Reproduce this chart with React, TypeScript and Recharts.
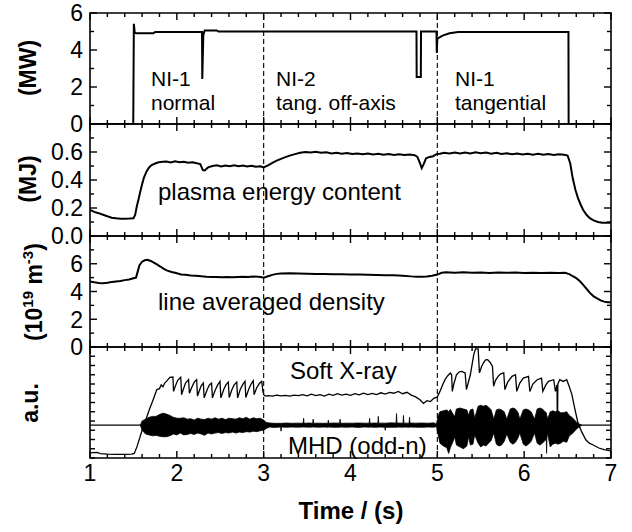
import React from 'react';
import { ComposedChart, Line, Area, XAxis, YAxis, ReferenceLine, ReferenceArea } from 'recharts';

const FONT = '"Liberation Sans", Arial, Helvetica, sans-serif';
const INK = '#000';

// shared time axis (s)
const TIME_RANGE: [number, number] = [1, 7];
const TIME_TICKS = [1, 1.2, 1.4, 1.6, 1.8, 2, 2.2, 2.4, 2.6, 2.8, 3, 3.2, 3.4, 3.6, 3.8, 4, 4.2, 4.4, 4.6, 4.8, 5, 5.2, 5.4, 5.6, 5.8, 6, 6.2, 6.4, 6.6, 6.8, 7];
const TIME_LABELS = [1, 2, 3, 4, 5, 6, 7];
// NBI switching instants, drawn dashed through every panel
const SWITCH_TIMES = [3, 5];

const MW_TICKS = [0, 1, 2, 3, 4, 5, 6];
const MW_LABELS = [0, 2, 4, 6];
const MJ_TICKS = [0, 0.1, 0.2, 0.3, 0.4, 0.5, 0.6, 0.7, 0.8];
const MJ_LABELS = [0, 0.2, 0.4, 0.6];
const NE_TICKS = [0, 1, 2, 3, 4, 5, 6, 7, 8];
const NE_LABELS = [0, 2, 4, 6];
const AU_TICKS = [0, 1, 2, 3, 4, 5, 6, 7, 8, 9, 10, 11, 12];
const MHD_ZERO = 3.55;

type Pt = [number, number];

// injected NBI power (MW)
const POWER: Pt[] = [
  [1.0, 0], [1.498, 0], [1.505, 5.42], [1.515, 4.95], [1.53, 4.9], [1.73, 4.9], [1.75, 4.97],
  [2.29, 4.97], [2.293, 2.43], [2.305, 4.8], [2.32, 5.06], [2.46, 5.06], [2.48, 5.0],
  [4.76, 5.0], [4.762, 2.54], [4.81, 2.54], [4.812, 5.0], [4.99, 5.0], [4.994, 3.84],
  [5.0, 4.62], [5.06, 4.78], [5.14, 4.9], [5.24, 4.97], [6.51, 4.97], [6.512, 0], [7.0, 0],
];

// plasma stored energy (MJ)
const ENERGY: Pt[] = [
  [1.0, 0.186], [1.05, 0.172], [1.1, 0.163], [1.15, 0.152], [1.2, 0.141], [1.25, 0.131], [1.3, 0.126],
  [1.35, 0.124], [1.4, 0.124], [1.45, 0.125], [1.5, 0.127], [1.52, 0.15], [1.54, 0.215], [1.56, 0.265],
  [1.58, 0.32], [1.6, 0.37], [1.62, 0.415], [1.65, 0.46], [1.68, 0.49], [1.71, 0.507], [1.75, 0.518],
  [1.79, 0.527], [1.84, 0.53], [1.88, 0.532], [1.93, 0.526], [1.98, 0.533], [2.03, 0.527], [2.08, 0.531],
  [2.13, 0.523], [2.18, 0.526], [2.23, 0.519], [2.27, 0.514], [2.3, 0.47], [2.32, 0.468], [2.36, 0.49],
  [2.41, 0.5], [2.46, 0.505], [2.51, 0.497], [2.56, 0.503], [2.61, 0.499], [2.66, 0.505], [2.71, 0.498],
  [2.76, 0.503], [2.81, 0.497], [2.86, 0.502], [2.91, 0.495], [2.96, 0.498], [3.0, 0.49], [3.05, 0.505],
  [3.1, 0.522], [3.15, 0.538], [3.2, 0.551], [3.25, 0.563], [3.3, 0.574], [3.36, 0.585], [3.42, 0.594],
  [3.48, 0.6], [3.54, 0.597], [3.6, 0.602], [3.66, 0.594], [3.72, 0.598], [3.78, 0.59], [3.84, 0.595],
  [3.9, 0.588], [3.96, 0.592], [4.02, 0.585], [4.08, 0.59], [4.14, 0.584], [4.2, 0.589], [4.26, 0.582],
  [4.32, 0.587], [4.38, 0.58], [4.44, 0.585], [4.5, 0.579], [4.56, 0.584], [4.62, 0.578], [4.68, 0.582],
  [4.74, 0.577], [4.77, 0.565], [4.8, 0.52], [4.82, 0.485], [4.84, 0.51], [4.87, 0.555], [4.91, 0.565],
  [4.95, 0.57], [4.99, 0.585], [5.03, 0.588], [5.08, 0.595], [5.14, 0.59], [5.2, 0.596], [5.26, 0.589],
  [5.32, 0.597], [5.38, 0.59], [5.44, 0.598], [5.5, 0.592], [5.56, 0.596], [5.62, 0.588], [5.68, 0.594],
  [5.74, 0.586], [5.8, 0.591], [5.86, 0.584], [5.92, 0.59], [5.98, 0.583], [6.04, 0.588], [6.1, 0.581],
  [6.16, 0.587], [6.22, 0.58], [6.28, 0.585], [6.34, 0.579], [6.4, 0.584], [6.46, 0.58], [6.5, 0.575],
  [6.53, 0.52], [6.56, 0.41], [6.59, 0.33], [6.62, 0.27], [6.65, 0.225], [6.68, 0.186], [6.72, 0.15],
  [6.76, 0.126], [6.8, 0.112], [6.85, 0.1], [6.9, 0.095], [6.95, 0.094], [7.0, 0.094],
];

// line averaged electron density (1e19 m^-3)
const DENSITY: Pt[] = [
  [1.0, 4.72], [1.05, 4.66], [1.1, 4.62], [1.15, 4.6], [1.2, 4.63], [1.25, 4.68], [1.3, 4.72], [1.35, 4.76],
  [1.4, 4.82], [1.45, 4.87], [1.5, 4.95], [1.53, 5.0], [1.55, 5.45], [1.57, 5.9], [1.6, 6.15], [1.63, 6.25],
  [1.66, 6.28], [1.7, 6.2], [1.73, 6.1], [1.77, 5.95], [1.81, 5.8], [1.85, 5.63], [1.89, 5.5], [1.94, 5.4],
  [1.99, 5.33], [2.05, 5.22], [2.1, 5.2], [2.16, 5.15], [2.22, 5.13], [2.28, 5.1], [2.34, 5.06], [2.4, 5.04],
  [2.46, 5.05], [2.52, 5.02], [2.58, 5.04], [2.64, 5.02], [2.7, 5.05], [2.76, 5.07], [2.82, 5.05], [2.88, 5.08],
  [2.94, 5.06], [2.98, 5.02], [3.0, 5.0], [3.05, 5.1], [3.1, 5.2], [3.15, 5.27], [3.2, 5.3], [3.3, 5.32],
  [3.4, 5.3], [3.5, 5.28], [3.6, 5.26], [3.7, 5.27], [3.8, 5.25], [3.9, 5.24], [4.0, 5.23], [4.1, 5.22],
  [4.2, 5.2], [4.3, 5.19], [4.4, 5.18], [4.5, 5.17], [4.6, 5.14], [4.7, 5.09], [4.76, 5.07], [4.82, 5.06],
  [4.88, 5.08], [4.94, 5.14], [5.0, 5.22], [5.05, 5.35], [5.1, 5.38], [5.2, 5.36], [5.3, 5.38], [5.4, 5.35],
  [5.5, 5.37], [5.6, 5.34], [5.7, 5.37], [5.8, 5.35], [5.9, 5.37], [6.0, 5.34], [6.1, 5.36], [6.2, 5.33],
  [6.3, 5.36], [6.4, 5.34], [6.47, 5.35], [6.52, 5.25], [6.56, 5.1], [6.6, 4.96], [6.64, 4.75], [6.68, 4.48],
  [6.72, 4.18], [6.76, 3.88], [6.8, 3.65], [6.84, 3.5], [6.88, 3.36], [6.92, 3.27], [6.96, 3.23], [7.0, 3.22],
];

// soft X-ray emission (a.u.), sawtooth crashes
const SXR: Pt[] = [
  [1.0, 0.55], [1.08, 0.6], [1.12, 0.48], [1.2, 0.42], [1.3, 0.4], [1.4, 0.4], [1.48, 0.42], [1.51, 0.5],
  [1.54, 1.2], [1.57, 2.1], [1.6, 3.0], [1.63, 3.8], [1.66, 4.6], [1.69, 5.4], [1.72, 6.1], [1.75, 6.9],
  [1.77, 7.4], [1.8, 7.5], [1.82, 7.9], [1.84, 7.7], [1.86, 8.1], [1.88, 8.28], [1.9, 8.5], [1.92, 8.72],
  [1.955, 8.75], [1.962, 7.2], [1.98, 7.7], [2.01, 8.4], [2.045, 8.72], [2.055, 6.85], [2.07, 7.3],
  [2.1, 8.1], [2.135, 8.47], [2.145, 7.0], [2.17, 7.6], [2.2, 8.2], [2.228, 8.46], [2.238, 6.7],
  [2.26, 7.3], [2.28, 7.8], [2.305, 8.1], [2.315, 6.5], [2.35, 7.4], [2.375, 7.9], [2.4, 8.1], [2.41, 6.5],
  [2.44, 7.3], [2.47, 7.9], [2.497, 8.28], [2.507, 6.5], [2.54, 7.4], [2.565, 7.9], [2.593, 8.2],
  [2.603, 6.55], [2.635, 7.4], [2.66, 7.9], [2.69, 8.2], [2.7, 6.5], [2.73, 7.4], [2.76, 7.95],
  [2.785, 8.28], [2.795, 6.55], [2.83, 7.5], [2.855, 8.0], [2.88, 8.35], [2.89, 6.85], [2.92, 7.6],
  [2.95, 8.05], [2.978, 8.28], [2.99, 7.3], [3.0, 6.85], [3.02, 6.7], [3.05, 6.75], [3.1, 6.7],
  [3.15, 6.8], [3.2, 6.72], [3.25, 6.78], [3.3, 6.7], [3.35, 6.8], [3.4, 6.74], [3.45, 6.85], [3.5, 6.72],
  [3.55, 6.9], [3.6, 6.75], [3.65, 6.85], [3.7, 6.7], [3.75, 6.9], [3.8, 6.78], [3.85, 6.95], [3.9, 6.8],
  [3.95, 6.9], [4.0, 6.78], [4.05, 6.95], [4.1, 6.82], [4.15, 7.0], [4.2, 6.85], [4.25, 6.98], [4.3, 6.85],
  [4.35, 7.05], [4.4, 6.9], [4.45, 7.1], [4.5, 7.0], [4.55, 7.2], [4.6, 6.95], [4.65, 7.1], [4.7, 6.8],
  [4.75, 6.6], [4.8, 6.3], [4.84, 5.9], [4.88, 6.2], [4.92, 6.1], [4.96, 6.45], [5.0, 6.6], [5.03, 7.2],
  [5.06, 7.9], [5.09, 8.5], [5.12, 8.9], [5.15, 9.19], [5.165, 9.0], [5.172, 7.2], [5.19, 8.0], [5.22, 9.0],
  [5.25, 9.3], [5.28, 9.37], [5.32, 9.19], [5.335, 7.4], [5.36, 8.3], [5.38, 9.0], [5.4, 10.1],
  [5.42, 11.2], [5.44, 11.8], [5.47, 11.8], [5.485, 9.2], [5.51, 9.9], [5.53, 10.27], [5.555, 10.6],
  [5.58, 10.63], [5.61, 10.3], [5.635, 9.9], [5.648, 7.75], [5.67, 8.4], [5.7, 8.83], [5.73, 9.1],
  [5.765, 9.2], [5.778, 7.39], [5.81, 8.2], [5.86, 8.83], [5.9, 9.0], [5.915, 7.2], [5.95, 8.1],
  [5.99, 8.64], [6.05, 8.83], [6.065, 7.2], [6.1, 8.0], [6.15, 8.46], [6.2, 8.64], [6.215, 7.2],
  [6.25, 7.9], [6.28, 8.28], [6.34, 8.46], [6.36, 7.2], [6.378, 7.9], [6.383, 3.3], [6.388, 8.0],
  [6.41, 8.46], [6.45, 8.28], [6.49, 8.46], [6.52, 7.7], [6.55, 6.85], [6.57, 5.9], [6.59, 5.04],
  [6.62, 3.78], [6.66, 2.88], [6.71, 1.97], [6.75, 1.6], [6.79, 1.43], [6.86, 1.08], [6.92, 0.9],
  [6.98, 0.79], [7.0, 0.78],
];

// odd-n MHD magnetic fluctuation envelope: [t, low, high] (a.u.)
const MHD: [number, number, number][] = [
  [1.58, 3.55, 3.55], [1.6, 3.0, 4.0], [1.64, 2.6, 4.2], [1.68, 2.5, 4.4], [1.72, 2.4, 4.5], [1.76, 2.45, 4.5],
  [1.8, 2.35, 4.7], [1.84, 2.3, 4.85], [1.88, 2.3, 4.75], [1.92, 2.4, 4.6], [1.96, 2.6, 4.4], [2.0, 2.5, 4.3],
  [2.04, 2.7, 4.3], [2.08, 2.5, 4.35], [2.12, 2.55, 4.2], [2.16, 2.65, 4.25], [2.2, 2.55, 4.1], [2.24, 2.7, 4.3],
  [2.28, 2.6, 4.2], [2.32, 2.45, 4.15], [2.36, 2.7, 4.3], [2.4, 2.6, 4.2], [2.44, 2.7, 4.35], [2.48, 2.75, 4.2],
  [2.52, 2.65, 4.3], [2.56, 2.75, 4.15], [2.6, 2.7, 4.3], [2.64, 2.8, 4.25], [2.68, 2.7, 4.2], [2.72, 2.8, 4.35],
  [2.76, 2.75, 4.25], [2.8, 2.85, 4.4], [2.84, 2.8, 4.2], [2.88, 2.9, 4.35], [2.92, 2.85, 4.25], [2.96, 2.95, 4.3],
  [3.0, 3.0, 4.1], [3.03, 3.2, 3.85], [3.07, 3.35, 3.78], [3.12, 3.3, 3.75], [3.195, 3.35, 3.75],
  [3.2, 2.9, 3.75], [3.205, 3.35, 3.75], [3.26, 3.32, 3.78], [3.32, 3.35, 3.75], [3.38, 3.33, 3.77],
  [3.455, 3.35, 3.76], [3.46, 3.35, 4.3], [3.465, 3.35, 3.75], [3.52, 3.33, 3.78], [3.565, 3.34, 3.76],
  [3.57, 3.35, 4.2], [3.575, 3.35, 3.75], [3.63, 3.32, 3.77], [3.69, 3.35, 3.75], [3.74, 3.33, 3.76],
  [3.745, 3.33, 4.1], [3.75, 3.35, 3.76], [3.81, 3.32, 3.78], [3.875, 3.33, 3.77], [3.88, 3.32, 4.2],
  [3.885, 3.35, 3.75], [3.95, 3.33, 3.77], [4.02, 3.35, 3.76], [4.09, 3.31, 3.78], [4.16, 3.35, 3.77],
  [4.215, 3.33, 3.76], [4.22, 3.33, 4.3], [4.225, 3.35, 3.76], [4.28, 3.32, 3.78], [4.315, 3.33, 3.77],
  [4.32, 3.33, 4.5], [4.325, 3.35, 3.77], [4.395, 3.33, 3.77], [4.4, 3.0, 3.78], [4.405, 3.33, 3.76],
  [4.46, 3.32, 3.8], [4.525, 3.33, 3.78], [4.53, 3.3, 4.8], [4.535, 3.35, 3.78], [4.605, 3.33, 3.77],
  [4.61, 3.33, 4.6], [4.615, 3.35, 3.77], [4.675, 3.33, 3.77], [4.68, 3.32, 4.4], [4.685, 3.35, 3.78],
  [4.75, 3.33, 3.77], [4.82, 3.32, 3.78], [4.9, 3.35, 3.76], [4.96, 3.33, 3.8], [4.99, 3.4, 3.65],
  [5.01, 2.5, 4.6], [5.03, 1.6, 5.0], [5.07, 1.3, 5.1], [5.11, 1.1, 5.2], [5.13, 0.5, 5.0], [5.15, 1.1, 5.25],
  [5.19, 2.0, 4.6], [5.2, 2.3, 4.5], [5.22, 1.4, 5.3], [5.26, 1.2, 5.4], [5.3, 1.0, 5.3], [5.34, 1.3, 5.2],
  [5.36, 2.3, 4.6], [5.38, 1.4, 5.2], [5.41, 1.5, 5.3], [5.43, 2.5, 4.3], [5.47, 1.6, 5.6], [5.5, 1.2, 5.7],
  [5.53, 1.4, 5.6], [5.56, 1.3, 5.7], [5.59, 1.6, 5.5], [5.62, 1.9, 5.2], [5.65, 2.7, 4.2], [5.68, 1.5, 5.2],
  [5.71, 1.3, 5.3], [5.74, 1.4, 5.2], [5.77, 1.8, 5.0], [5.8, 2.6, 4.2], [5.84, 1.7, 5.3], [5.87, 1.5, 5.4],
  [5.9, 1.7, 5.3], [5.93, 2.2, 4.9], [5.95, 2.7, 4.2], [5.99, 1.5, 5.2], [6.02, 1.3, 5.3], [6.05, 1.5, 5.2],
  [6.08, 1.8, 5.0], [6.12, 2.7, 4.2], [6.15, 1.6, 5.3], [6.18, 1.4, 5.4], [6.21, 1.6, 5.3], [6.24, 1.9, 5.0],
  [6.255, 2.0, 4.9], [6.258, 0.5, 4.6], [6.262, 2.2, 4.6], [6.27, 2.7, 4.2], [6.3, 1.2, 5.0], [6.33, 1.5, 5.1],
  [6.36, 1.6, 5.0], [6.39, 1.5, 5.1], [6.42, 1.6, 4.9], [6.45, 1.8, 4.9], [6.49, 1.7, 5.0], [6.52, 2.4, 4.6],
  [6.55, 2.6, 4.4], [6.58, 2.9, 4.1], [6.61, 3.2, 3.8], [6.64, 3.4, 3.65], [6.66, 3.55, 3.55],
];

const toRows = (pts: Pt[]) => pts.map(([t, v]) => ({ t, v }));
const mhdRows = MHD.map(([t, lo, hi]) => ({ t, v: [lo, hi] }));

const PAD = 12;
const TICK_W = 1.4;

// tick mark as a thin filled bar pointing into the plot; side: which frame edge it sits on
function TickMark({ x, y, len, side }: { x: number; y: number; len: number; side: 'b' | 't' | 'l' | 'r' }) {
  const h = TICK_W / 2;
  if (side === 'b') return <rect x={x - h} y={y - len} width={TICK_W} height={len} fill={INK} />;
  if (side === 't') return <rect x={x - h} y={y} width={TICK_W} height={len} fill={INK} />;
  if (side === 'l') return <rect x={x} y={y - h} width={len} height={TICK_W} fill={INK} />;
  return <rect x={x - len} y={y - h} width={len} height={TICK_W} fill={INK} />;
}

function TimeTick(props: any) {
  const { x, y, payload, labels, side } = props;
  const major = TIME_LABELS.includes(payload.value);
  return (
    <g>
      <TickMark x={x} y={y} len={major ? 7 : 4} side={side} />
      {labels && major && (
        <text x={x} y={y + 23} textAnchor="middle" fontFamily={FONT} fontSize={23} fill={INK}>
          {payload.value}
        </text>
      )}
    </g>
  );
}

function ValueTick(props: any) {
  const { x, y, payload, labels, digits, side } = props;
  const shown = labels.includes(payload.value);
  const len = labels.length === 0 ? 5 : shown ? 7 : 4;
  return (
    <g>
      <TickMark x={x} y={y} len={len} side={side} />
      {shown && side === 'l' && (
        <text x={x - 7} y={y} dy="0.36em" textAnchor="end" fontFamily={FONT} fontSize={23} fill={INK}>
          {payload.value.toFixed(digits)}
        </text>
      )}
    </g>
  );
}

type PanelProps = {
  top: number;
  height: number;
  domain: [number, number];
  ticks: number[];
  labels: number[];
  digits?: number;
  timeLabels?: boolean;
  children?: React.ReactNode;
};

function Panel({ top, height, domain, ticks, labels, digits = 0, timeLabels = false, children }: PanelProps) {
  const padBottom = timeLabels ? 40 : PAD;
  const bare = { tickSize: 0, tickMargin: 0, tickLine: false, axisLine: false, interval: 0 as const };
  // top and bottom axes take one pixel each, the right axis one pixel of width
  return (
    <div style={{ position: 'absolute', left: 0, top: top - PAD - 1 }}>
      <ComposedChart
        width={632}
        height={height + PAD + padBottom + 2}
        margin={{ top: PAD, right: 20, bottom: padBottom, left: 0 }}
      >
        <XAxis
          xAxisId="b" type="number" dataKey="t" domain={TIME_RANGE} allowDataOverflow
          ticks={TIME_TICKS} height={1} {...bare}
          tick={(p: any) => <TimeTick {...p} side="b" labels={timeLabels} />}
        />
        <XAxis
          xAxisId="t" orientation="top" type="number" dataKey="t" domain={TIME_RANGE} allowDataOverflow
          ticks={TIME_TICKS} height={1} {...bare}
          tick={(p: any) => <TimeTick {...p} side="t" labels={false} />}
        />
        <YAxis
          yAxisId="l" type="number" domain={domain} allowDataOverflow ticks={ticks}
          width={90} {...bare}
          tick={(p: any) => <ValueTick {...p} side="l" labels={labels} digits={digits} />}
        />
        <YAxis
          yAxisId="r" orientation="right" type="number" domain={domain} allowDataOverflow ticks={ticks}
          width={1} {...bare}
          tick={(p: any) => <ValueTick {...p} side="r" labels={labels} digits={digits} />}
        />
        <ReferenceArea
          xAxisId="b" yAxisId="l" x1={TIME_RANGE[0]} x2={TIME_RANGE[1]} y1={domain[0]} y2={domain[1]}
          fill="none" stroke={INK} strokeWidth={1.6} ifOverflow="visible"
        />
        {SWITCH_TIMES.map((s) => (
          <ReferenceLine
            key={s} xAxisId="b" yAxisId="l" x={s}
            stroke={INK} strokeWidth={1.1} strokeDasharray="5 3"
          />
        ))}
        {children}
      </ComposedChart>
    </div>
  );
}

const trace = (rows: any[], width: number) => (
  <Line
    data={rows} dataKey="v" xAxisId="b" yAxisId="l" type="linear"
    stroke={INK} strokeWidth={width} dot={false} activeDot={false} isAnimationActive={false}
  />
);

export default function App() {
  return (
    <div style={{ position: 'absolute', left: 0, top: 0, width: 632, height: 532, background: '#fff', overflow: 'hidden' }}>
      <Panel top={13} height={111} domain={[0, 6]} ticks={MW_TICKS} labels={MW_LABELS}>
        {trace(toRows(POWER), 2)}
      </Panel>
      <Panel top={124} height={112} domain={[0, 0.8]} ticks={MJ_TICKS} labels={MJ_LABELS} digits={1}>
        {trace(toRows(ENERGY), 2)}
      </Panel>
      <Panel top={236} height={111} domain={[0, 8]} ticks={NE_TICKS} labels={NE_LABELS}>
        {trace(toRows(DENSITY), 2)}
      </Panel>
      <Panel top={347} height={111} domain={[0, 12]} ticks={AU_TICKS} labels={[]} timeLabels>
        <ReferenceLine xAxisId="b" yAxisId="l" y={MHD_ZERO} stroke={INK} strokeWidth={1.3} />
        <Area
          data={mhdRows} dataKey="v" xAxisId="b" yAxisId="l" type="linear"
          stroke={INK} strokeWidth={0.8} fill={INK} fillOpacity={1} dot={false} activeDot={false}
          isAnimationActive={false}
        />
        {trace(toRows(SXR), 1.3)}
      </Panel>

      <svg width={632} height={532} style={{ position: 'absolute', left: 0, top: 0, pointerEvents: 'none' }} fontFamily={FONT} fill={INK}>
        <g fontSize={21}>
          <text x={151} y={86}>NI-1</text>
          <text x={151} y={110}>normal</text>
          <text x={276} y={86}>NI-2</text>
          <text x={276} y={110}>tang. off-axis</text>
          <text x={455} y={86}>NI-1</text>
          <text x={455} y={110}>tangential</text>
        </g>
        <g fontSize={24}>
          <text x={158} y={200}>plasma energy content</text>
          <text x={158} y={310}>line averaged density</text>
          <text x={290} y={379}>Soft X-ray</text>
          <text x={288} y={454}>MHD (odd-n)</text>
        </g>
        <g fontSize={23} fontWeight="bold" textAnchor="middle">
          <text transform="translate(36,68) rotate(-90)">(MW)</text>
          <text transform="translate(36,179) rotate(-90)">(MJ)</text>
          <text transform="translate(42,292) rotate(-90)">
            <tspan>(10</tspan>
            <tspan dy={-9} fontSize={15}>19</tspan>
            <tspan dy={9}> m</tspan>
            <tspan dy={-9} fontSize={15}>-3</tspan>
            <tspan dy={9}>)</tspan>
          </text>
          <text transform="translate(38,403) rotate(-90)">a.u.</text>
        </g>
        <text x={351} y={519} textAnchor="middle" fontSize={24} fontWeight="bold">Time / (s)</text>
      </svg>
    </div>
  );
}
